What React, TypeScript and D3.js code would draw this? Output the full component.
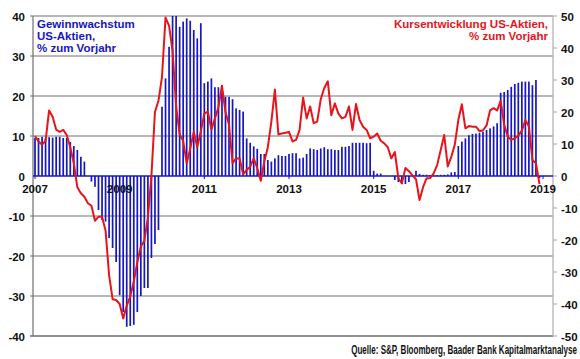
import React, { useLayoutEffect, useRef, useState } from "react";
import * as d3 from "d3";

// Year tick labels (every second year)
const yearLabels = ["2007", "2009", "2011", "2013", "2015", "2017", "2019"];
const leftTicks = [-40, -30, -20, -10, 0, 10, 20, 30, 40];
const rightTicks = [-50, -40, -30, -20, -10, 0, 10, 20, 30, 40, 50];

// Monthly earnings growth US equities, % y/y (left axis), Jan 2007 - Dec 2018
const earnings2007_2009 = [
  9.5, 9.5, 9.8, 9.5, 9.7, 9.6, 9.8, 9.8, 9.5, 9.5, 8.5, 7.5,
  6.5, 4.8, 3.6, 0, -1.4, -2.7, -8.5, -11, -11.4, -15.5, -18, -21.5,
  -29.8, -34, -37.7, -37.5, -37.2, -34, -30, -28, -28, -20.5, -17, -13.5,
];
const earnings2010_2012 = [
  17.3, 24.4, 32.3, 40, 40, 37.3, 38.6, 39.4, 38.8, 36.5, 34.4, 38.2,
  23.2, 23.6, 24.4, 22.2, 22.2, 22.75, 19.8, 19.8, 19.2, 16.9, 16.5, 16.1,
  9.4, 8.3, 7.4, 6.8, 5.5, 5.5, 4, 3.6, 4.4, 5.2, 5, 5,
];
const earnings2013_2015 = [
  5.5, 5.7, 5.7, 4.4, 4.6, 5.5, 6.9, 6.7, 6.5, 6.9, 7.2, 6.7,
  6.7, 6.5, 6.5, 7.3, 7.3, 7.5, 8.3, 8.3, 8.3, 8.3, 8.2, 8.3,
  1.3, 0.6, 0.6, 0, 0, 0, -1, -1.5, -2, -2, -1.5, 0.2,
];
const earnings2016_2018 = [
  1.3, 0.5, 0.3, 0.3, 0.2, 0.3, 0.2, 0.3, 0.3, 0.4, 0.9, 1.0,
  7.5, 8.6, 9.4, 10.2, 10.5, 10.6, 10.8, 11.1, 11.5, 11.9, 12.4, 13.2,
  20.8, 21, 21.5, 22.3, 23, 23.3, 23.6, 23.6, 23.6, 22.7, 24, -0.5,
];
const earningsGrowth = [
  ...earnings2007_2009,
  ...earnings2010_2012,
  ...earnings2013_2015,
  ...earnings2016_2018,
];

// Monthly US equity price change, % y/y (right axis)
const price2007_2009 = [
  12.5, 10.8, 9.8, 11, 20.5, 18.5, 14.5, 13.8, 14.4, 12.8, 9, 4,
  -3.5, -5.4, -6.5, -8.5, -9.3, -14, -12.7, -12.7, -17, -31, -38.5, -38.75,
  -40, -44.5, -40.5, -37.7, -33, -27, -22, -20.3, -13, 0, 20, 23.5,
];
const price2010_2012 = [
  31, 49.5, 47, 39, 22, 13, 11, 4, 8.5, 13.8, 9, 14,
  19.5, 20.1, 14.5, 18, 21.5, 28.2, 20, 16, 4, 5.5, 5.5, 0.5,
  1.9, 2.9, 5.5, 2.5, -1.5, 4.5, 9, 17, 27, 13, 13.3, 13.5,
];
const price2013_2015 = [
  13.8, 10.8, 11.3, 14.4, 24.5, 18, 21.7, 16.5, 17, 24, 27.5, 29.6,
  19, 22.7, 19.5, 18, 18.5, 21.7, 14.4, 22.5, 17.5, 15.4, 14.4, 11.8,
  12.3, 13.3, 11, 10.2, 9, 5.5, 7.5, -0.7, -2.3, 2.5, 1.5, 0.2,
];
const price2016_2018 = [
  -1, -7.5, -3.5, -0.7, -0.7, 0.8, 3.4, 8.1, 12.8, 3, 6, 9.8,
  17.5, 22.4, 14.9, 15.6, 15.4, 15.4, 14, 14.3, 15.8, 20.5, 21.2, 20.5,
  23.5, 16, 12.3, 11.3, 11.8, 12.6, 14.2, 17.5, 15.5, 5, 4, -2.5,
];
const stockReturn = [
  ...price2007_2009,
  ...price2010_2012,
  ...price2013_2015,
  ...price2016_2018,
];

const sourceText = "Quelle: S&P, Bloomberg, Baader Bank Kapitalmarktanalyse";

const W = 580;
const H = 359;
const FONT = "'Liberation Sans', Arial, Helvetica, sans-serif";

export default function App() {
  const plotLeft = 33;
  const plotRight = 553;
  const top = 16;
  const bottom = 336;

  const srcRef = useRef<SVGTextElement>(null);
  const [sx, setSx] = useState(0.8);
  useLayoutEffect(() => {
    const el = srcRef.current;
    if (el) {
      const len = el.getComputedTextLength();
      if (len > 0) setSx(Math.min(1, 226 / len));
    }
  }, []);

  const x = d3.scaleLinear().domain([0, 144]).range([35, 543]);
  const yL = d3.scaleLinear().domain([-40, 40]).range([bottom, top]);
  const yR = d3.scaleLinear().domain([-50, 50]).range([bottom, top]);

  const line = d3
    .line<number>()
    .x((_, i) => x(i))
    .y((d) => yR(d));

  const blue = "#1616c2";
  const red = "#e8141c";

  return (
    <svg
      width={W}
      height={H}
      style={{ position: "absolute", left: 0, top: 0, background: "#fff" }}
      fontFamily={FONT}
    >
      <rect x={0} y={0} width={W} height={H} fill="#fff" />
      {/* grid lines */}
      {leftTicks
        .filter((t) => t !== 0)
        .map((t) => (
          <line
            key={"g" + t}
            x1={plotLeft - 3}
            x2={plotRight}
            y1={yL(t)}
            y2={yL(t)}
            stroke={t === -40 ? "#6e6e6e" : "#a0a0a0"}
            strokeWidth={1.5}
          />
        ))}
      {/* left axis */}
      <line x1={plotLeft} x2={plotLeft} y1={top} y2={bottom} stroke="#7a7a7a" strokeWidth={1.3} />
      {leftTicks.map((t) => (
        <text
          key={"lt" + t}
          x={25}
          y={yL(t) + 4.5}
          textAnchor="end"
          fontSize={11.5}
          fontWeight="bold"
          fill="#111"
        >
          {t}
        </text>
      ))}
      {/* right axis */}
      <line x1={plotRight} x2={plotRight} y1={top} y2={bottom} stroke="#b4b4b4" strokeWidth={1.3} />
      {rightTicks.map((t) => (
        <g key={"rt" + t}>
          <line x1={plotRight} x2={plotRight + 4} y1={yR(t)} y2={yR(t)} stroke="#b4b4b4" strokeWidth={1.2} />
          <text
            x={561}
            y={yR(t) + 4.5}
            textAnchor="start"
            fontSize={11.5}
            fontWeight="bold"
            fill="#111"
          >
            {t}
          </text>
        </g>
      ))}
      {/* bars */}
      {earningsGrowth.map((v, i) => (
        <rect
          key={"b" + i}
          x={x(i) - 0.85}
          width={1.7}
          y={Math.min(yL(v), yL(0))}
          height={Math.abs(yL(v) - yL(0))}
          fill={blue}
        />
      ))}
      {/* zero axis */}
      <line x1={plotLeft} x2={plotRight} y1={yL(0)} y2={yL(0)} stroke={blue} strokeWidth={1.6} />
      {yearLabels.map((lab, k) => (
        <g key={"x" + lab}>
          <line x1={x(k * 24)} x2={x(k * 24)} y1={yL(0)} y2={yL(0) + 3} stroke={blue} strokeWidth={1} />
          <text
            x={x(k * 24)}
            y={193}
            textAnchor="middle"
            fontSize={11.5}
            fontWeight="bold"
            fill="#111"
          >
            {lab}
          </text>
        </g>
      ))}
      {/* stock price line */}
      <path d={line(stockReturn) || ""} fill="none" stroke={red} strokeWidth={2} strokeLinejoin="round" />
      {/* titles */}
      <text x={37} fontSize={11.5} fontWeight="bold" fill={blue}>
        <tspan x={37} y={28}>Gewinnwachstum</tspan>
        <tspan x={37} y={39.8}>US-Aktien,</tspan>
        <tspan x={37} y={51.5}>% zum Vorjahr</tspan>
      </text>
      <text textAnchor="end" fontSize={11.5} fontWeight="bold" fill={red}>
        <tspan x={548} y={28}>Kursentwicklung US-Aktien,</tspan>
        <tspan x={548} y={40}>% zum Vorjahr</tspan>
      </text>
      <text
        ref={srcRef}
        transform={`translate(577,353.5) scale(${sx},1)`}
        x={0}
        y={0}
        textAnchor="end"
        fontSize={12}
        fontWeight="bold"
        fill="#111"
        fontFamily="'Liberation Sans Narrow', 'Arial Narrow', 'Liberation Sans', Arial, sans-serif"
      >
        {sourceText}
      </text>
    </svg>
  );
}
